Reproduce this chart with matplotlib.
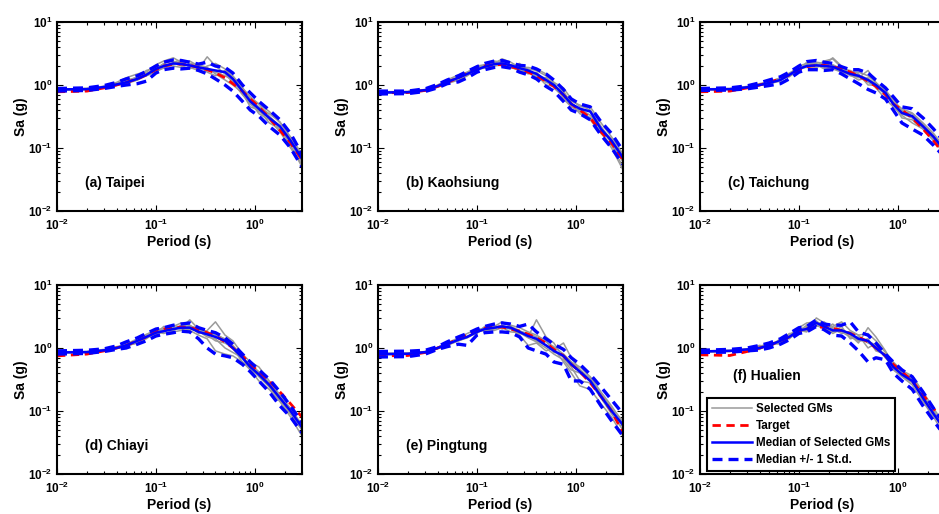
import math

import matplotlib
matplotlib.use("Agg")
import matplotlib.pyplot as plt
from matplotlib.ticker import LogLocator, FuncFormatter

plt.rcParams["font.family"] = ["Liberation Sans", "DejaVu Sans"]
plt.rcParams["font.weight"] = "bold"
plt.rcParams["mathtext.fontset"] = "custom"
plt.rcParams["mathtext.rm"] = "Liberation Sans:bold"
plt.rcParams["mathtext.bf"] = "Liberation Sans:bold"
plt.rcParams["mathtext.it"] = "Liberation Sans:bold:italic"
plt.rcParams["mathtext.default"] = "bf"

# period grid shared by every curve (s)
PERIODS = [0.01, 0.02, 0.03, 0.04, 0.05, 0.065, 0.08, 0.1, 0.12, 0.15, 0.18, 0.22,
           0.27, 0.33, 0.4, 0.5, 0.6, 0.75, 0.9, 1.1, 1.4, 1.8, 2.3, 3.0]

# (a) Taipei
TAIPEI_TARGET = [0.78, 0.80, 0.90, 1.0, 1.1, 1.25, 1.45, 1.75, 2.0, 2.15, 2.15, 2.05, 1.9, 1.75, 1.55, 1.3, 1.05, 0.8, 0.6, 0.45, 0.3, 0.19, 0.12, 0.065]
TAIPEI_MED = [0.85, 0.86, 0.93, 1.02, 1.1, 1.25, 1.45, 1.8, 2.0, 2.2, 2.15, 2.05, 1.9, 1.8, 1.7, 1.6, 1.25, 0.8, 0.55, 0.42, 0.3, 0.22, 0.13, 0.068]
TAIPEI_UP = [0.88, 0.9, 0.98, 1.1, 1.25, 1.4, 1.65, 2.0, 2.3, 2.5, 2.45, 2.3, 2.15, 2.3, 2.0, 1.9, 1.55, 1.0, 0.75, 0.55, 0.4, 0.28, 0.17, 0.08]
TAIPEI_LO = [0.8, 0.82, 0.88, 0.95, 1.0, 1.05, 1.15, 1.55, 1.75, 1.85, 1.8, 1.85, 1.7, 1.5, 1.25, 1.0, 0.8, 0.55, 0.4, 0.32, 0.22, 0.16, 0.1, 0.05]
TAIPEI_GMS = [
    [0.82, 0.84, 0.95, 1.1, 1.3, 1.5, 1.6, 2.1, 2.4, 2.7, 2.3, 2.0, 1.8, 2.8, 2.0, 1.5, 1.1, 0.7, 0.5, 0.38, 0.3, 0.2, 0.12, 0.06],
    [0.86, 0.88, 0.92, 1.0, 1.05, 1.2, 1.4, 1.6, 1.9, 2.3, 2.5, 2.2, 2.0, 1.6, 1.4, 1.7, 1.4, 0.9, 0.6, 0.5, 0.38, 0.25, 0.15, 0.08],
    [0.84, 0.85, 0.9, 0.98, 1.15, 1.35, 1.7, 1.9, 2.1, 2.0, 1.9, 2.2, 2.1, 1.9, 1.5, 1.2, 1.0, 0.75, 0.45, 0.4, 0.25, 0.2, 0.11, 0.05],
    [0.85, 0.87, 0.96, 1.05, 1.1, 1.2, 1.5, 1.7, 1.85, 2.1, 2.4, 1.9, 1.7, 2.0, 2.2, 1.8, 1.3, 0.85, 0.6, 0.45, 0.35, 0.26, 0.14, 0.075],
    [0.83, 0.85, 0.92, 1.0, 1.12, 1.3, 1.4, 1.8, 2.2, 2.4, 2.0, 1.8, 2.1, 1.7, 1.6, 1.4, 1.2, 0.8, 0.55, 0.35, 0.28, 0.18, 0.1, 0.055],
    [0.86, 0.88, 0.94, 1.05, 1.2, 1.3, 1.5, 1.9, 1.9, 2.2, 2.3, 2.4, 2.0, 1.8, 1.7, 1.6, 1.3, 0.9, 0.65, 0.5, 0.32, 0.22, 0.14, 0.07],
]

# (b) Kaohsiung
KAOHSIUNG_TARGET = [0.75, 0.76, 0.82, 0.95, 1.1, 1.3, 1.55, 1.8, 2.0, 2.1, 2.1, 1.95, 1.8, 1.6, 1.4, 1.15, 0.95, 0.7, 0.5, 0.4, 0.3, 0.18, 0.12, 0.065]
KAOHSIUNG_MED = [0.76, 0.77, 0.83, 0.96, 1.12, 1.3, 1.5, 1.75, 1.95, 2.15, 2.2, 2.05, 1.85, 1.7, 1.5, 1.2, 1.0, 0.7, 0.5, 0.42, 0.38, 0.2, 0.13, 0.07]
KAOHSIUNG_UP = [0.8, 0.8, 0.87, 1.02, 1.2, 1.4, 1.65, 1.95, 2.2, 2.4, 2.45, 2.25, 2.05, 2.0, 1.8, 1.5, 1.2, 0.85, 0.6, 0.5, 0.45, 0.26, 0.17, 0.09]
KAOHSIUNG_LO = [0.72, 0.73, 0.79, 0.9, 1.05, 1.12, 1.3, 1.6, 1.75, 1.9, 1.95, 1.85, 1.6, 1.45, 1.25, 0.95, 0.8, 0.55, 0.4, 0.35, 0.28, 0.16, 0.1, 0.055]
KAOHSIUNG_GMS = [
    [0.74, 0.75, 0.8, 0.95, 1.1, 1.25, 1.6, 2.0, 2.1, 2.4, 2.3, 2.0, 2.2, 1.6, 1.3, 1.2, 1.1, 0.6, 0.45, 0.4, 0.3, 0.18, 0.1, 0.045],
    [0.78, 0.79, 0.85, 1.0, 1.2, 1.45, 1.6, 1.7, 2.0, 2.2, 2.6, 2.3, 1.9, 1.9, 1.8, 1.5, 1.1, 0.9, 0.6, 0.45, 0.45, 0.25, 0.15, 0.08],
    [0.76, 0.77, 0.82, 0.92, 1.05, 1.2, 1.4, 1.8, 1.85, 2.0, 2.1, 1.9, 1.7, 1.6, 1.45, 1.0, 0.95, 0.8, 0.5, 0.35, 0.3, 0.2, 0.14, 0.07],
    [0.77, 0.78, 0.84, 0.98, 1.15, 1.35, 1.5, 1.7, 2.1, 2.3, 2.0, 2.1, 1.95, 1.8, 1.7, 1.4, 0.9, 0.65, 0.45, 0.38, 0.28, 0.17, 0.11, 0.05],
    [0.75, 0.76, 0.83, 0.95, 1.1, 1.3, 1.45, 1.75, 1.9, 2.1, 2.2, 1.9, 1.75, 1.5, 1.6, 1.1, 1.0, 0.75, 0.55, 0.48, 0.4, 0.22, 0.13, 0.075],
    [0.76, 0.78, 0.82, 0.96, 1.13, 1.28, 1.55, 1.9, 2.0, 2.2, 2.25, 2.1, 1.8, 1.7, 1.35, 1.3, 1.05, 0.7, 0.5, 0.42, 0.33, 0.2, 0.12, 0.06],
]

# (c) Taichung
TAICHUNG_TARGET = [0.78, 0.8, 0.9, 1.0, 1.1, 1.25, 1.45, 1.75, 1.95, 2.05, 2.05, 1.95, 1.8, 1.6, 1.4, 1.15, 0.95, 0.7, 0.5, 0.4, 0.3, 0.2, 0.13, 0.075]
TAICHUNG_MED = [0.85, 0.86, 0.92, 1.0, 1.08, 1.2, 1.45, 1.8, 2.0, 2.05, 2.0, 1.95, 1.7, 1.5, 1.4, 1.2, 1.0, 0.75, 0.5, 0.36, 0.32, 0.22, 0.15, 0.09]
TAICHUNG_UP = [0.88, 0.9, 0.97, 1.08, 1.2, 1.35, 1.6, 2.0, 2.35, 2.45, 2.3, 2.2, 1.95, 1.75, 1.75, 1.55, 1.2, 0.9, 0.65, 0.45, 0.42, 0.3, 0.2, 0.12]
TAICHUNG_LO = [0.82, 0.83, 0.87, 0.93, 0.98, 1.05, 1.25, 1.6, 1.75, 1.75, 1.7, 1.75, 1.5, 1.25, 1.05, 0.85, 0.75, 0.6, 0.4, 0.25, 0.2, 0.16, 0.11, 0.07]
TAICHUNG_GMS = [
    [0.84, 0.85, 0.9, 1.0, 1.1, 1.3, 1.5, 2.0, 2.2, 2.0, 2.4, 2.6, 1.9, 1.5, 1.3, 1.7, 1.1, 0.7, 0.5, 0.3, 0.28, 0.2, 0.13, 0.08],
    [0.86, 0.87, 0.93, 1.02, 1.1, 1.2, 1.4, 1.7, 2.3, 2.2, 1.9, 2.1, 1.8, 1.7, 1.5, 1.0, 1.0, 0.85, 0.55, 0.42, 0.36, 0.25, 0.17, 0.1],
    [0.85, 0.86, 0.9, 0.98, 1.05, 1.15, 1.5, 1.9, 1.9, 2.1, 2.2, 1.8, 1.6, 1.45, 1.2, 1.3, 0.9, 0.6, 0.45, 0.33, 0.25, 0.2, 0.14, 0.085],
    [0.87, 0.88, 0.95, 1.05, 1.12, 1.3, 1.55, 1.85, 2.0, 1.9, 2.1, 2.7, 2.0, 1.6, 1.6, 1.4, 1.1, 0.8, 0.6, 0.38, 0.35, 0.24, 0.15, 0.095],
    [0.84, 0.85, 0.9, 0.99, 1.06, 1.25, 1.35, 1.75, 1.95, 2.1, 1.8, 1.9, 1.75, 1.4, 1.35, 1.1, 0.95, 0.7, 0.5, 0.35, 0.3, 0.21, 0.14, 0.08],
    [0.86, 0.87, 0.92, 1.01, 1.09, 1.2, 1.45, 1.8, 2.1, 2.3, 2.2, 2.0, 1.7, 1.55, 1.45, 1.25, 1.05, 0.75, 0.5, 0.4, 0.32, 0.23, 0.16, 0.09],
]

# (d) Chiayi
CHIAYI_TARGET = [0.75, 0.8, 0.9, 1.0, 1.1, 1.3, 1.5, 1.8, 2.0, 2.1, 2.15, 2.1, 1.95, 1.75, 1.55, 1.25, 1.0, 0.75, 0.55, 0.42, 0.3, 0.2, 0.13, 0.08]
CHIAYI_MED = [0.85, 0.86, 0.92, 1.0, 1.1, 1.3, 1.5, 1.75, 1.85, 2.0, 2.1, 2.1, 1.8, 1.65, 1.5, 1.3, 1.0, 0.7, 0.5, 0.38, 0.26, 0.16, 0.1, 0.055]
CHIAYI_UP = [0.9, 0.92, 0.97, 1.08, 1.25, 1.45, 1.7, 2.0, 2.1, 2.3, 2.4, 2.5, 2.1, 1.9, 1.75, 1.45, 1.15, 0.8, 0.6, 0.45, 0.32, 0.2, 0.12, 0.065]
CHIAYI_LO = [0.8, 0.82, 0.88, 0.95, 1.0, 1.15, 1.3, 1.55, 1.65, 1.75, 1.85, 1.8, 1.4, 1.0, 0.8, 0.75, 0.7, 0.55, 0.42, 0.3, 0.2, 0.12, 0.08, 0.045]
CHIAYI_GMS = [
    [0.84, 0.86, 0.9, 1.0, 1.15, 1.4, 1.6, 2.0, 2.0, 2.3, 2.1, 2.8, 2.0, 1.6, 1.3, 1.2, 1.0, 0.6, 0.45, 0.3, 0.22, 0.14, 0.08, 0.04],
    [0.86, 0.87, 0.93, 1.05, 1.1, 1.2, 1.45, 1.7, 2.2, 1.8, 1.9, 2.3, 1.7, 1.9, 2.6, 1.6, 1.3, 0.8, 0.6, 0.5, 0.3, 0.18, 0.11, 0.06],
    [0.85, 0.86, 0.9, 0.98, 1.05, 1.25, 1.4, 1.8, 1.7, 1.9, 2.2, 1.9, 1.6, 1.4, 0.9, 0.8, 0.75, 0.6, 0.5, 0.35, 0.24, 0.15, 0.09, 0.05],
    [0.87, 0.88, 0.95, 1.04, 1.12, 1.35, 1.65, 1.9, 1.9, 2.2, 2.5, 2.3, 1.9, 1.8, 1.6, 1.4, 1.1, 0.75, 0.5, 0.4, 0.28, 0.17, 0.1, 0.06],
    [0.84, 0.85, 0.9, 1.0, 1.08, 1.2, 1.5, 1.65, 1.8, 2.1, 2.0, 2.0, 1.85, 1.5, 1.4, 1.0, 0.85, 0.7, 0.45, 0.36, 0.25, 0.15, 0.09, 0.05],
    [0.86, 0.87, 0.92, 1.02, 1.1, 1.3, 1.55, 1.85, 2.0, 1.95, 2.3, 2.2, 2.1, 1.7, 1.7, 1.35, 1.05, 0.7, 0.55, 0.42, 0.27, 0.16, 0.1, 0.055],
]

# (e) Pingtung
PINGTUNG_TARGET = [0.75, 0.76, 0.85, 1.0, 1.15, 1.4, 1.6, 1.9, 2.05, 2.15, 2.15, 2.0, 1.85, 1.65, 1.45, 1.2, 0.95, 0.75, 0.55, 0.42, 0.28, 0.17, 0.1, 0.045]
PINGTUNG_MED = [0.8, 0.81, 0.86, 1.0, 1.15, 1.35, 1.5, 1.8, 2.0, 2.1, 2.2, 2.1, 1.8, 1.55, 1.4, 1.1, 0.9, 0.75, 0.55, 0.42, 0.3, 0.17, 0.1, 0.06]
PINGTUNG_UP = [0.88, 0.89, 0.92, 1.05, 1.25, 1.5, 1.7, 2.0, 2.2, 2.4, 2.5, 2.4, 2.2, 2.4, 1.8, 1.4, 1.15, 0.95, 0.7, 0.55, 0.38, 0.24, 0.15, 0.09]
PINGTUNG_LO = [0.72, 0.73, 0.8, 0.95, 1.05, 1.15, 1.1, 1.6, 1.75, 1.8, 1.8, 1.75, 1.5, 1.0, 0.9, 0.8, 0.6, 0.55, 0.3, 0.3, 0.22, 0.12, 0.07, 0.04]
PINGTUNG_GMS = [
    [0.78, 0.79, 0.84, 0.98, 1.1, 1.3, 1.5, 1.9, 2.1, 2.2, 2.6, 2.2, 1.9, 1.5, 2.8, 1.5, 1.2, 0.7, 0.5, 0.3, 0.28, 0.16, 0.09, 0.05],
    [0.82, 0.83, 0.88, 1.02, 1.2, 1.45, 1.7, 2.0, 1.95, 1.9, 2.1, 2.0, 1.6, 1.1, 1.2, 0.9, 1.0, 0.6, 0.4, 0.25, 0.22, 0.13, 0.08, 0.04],
    [0.8, 0.82, 0.86, 1.0, 1.15, 1.35, 1.5, 1.7, 2.2, 2.3, 2.0, 2.3, 2.1, 1.8, 1.6, 1.3, 0.85, 0.8, 0.6, 0.5, 0.35, 0.2, 0.12, 0.065],
    [0.79, 0.8, 0.85, 0.97, 1.12, 1.3, 1.45, 1.8, 1.9, 2.0, 2.3, 2.0, 1.7, 1.6, 1.3, 1.1, 0.95, 1.2, 0.7, 0.45, 0.3, 0.17, 0.1, 0.06],
    [0.81, 0.82, 0.87, 1.01, 1.17, 1.35, 1.55, 1.75, 2.0, 2.2, 2.1, 1.8, 1.75, 1.45, 1.25, 1.0, 0.8, 0.65, 0.45, 0.4, 0.3, 0.18, 0.11, 0.055],
    [0.8, 0.81, 0.86, 1.0, 1.15, 1.4, 1.5, 1.85, 2.05, 2.15, 2.25, 2.1, 1.85, 1.7, 1.5, 1.25, 1.05, 0.8, 0.6, 0.45, 0.33, 0.19, 0.11, 0.07],
]

# (f) Hualien
HUALIEN_TARGET = [0.78, 0.76, 0.88, 1.0, 1.1, 1.3, 1.5, 1.8, 2.0, 2.15, 2.15, 2.05, 1.9, 1.7, 1.5, 1.25, 1.0, 0.75, 0.55, 0.42, 0.3, 0.18, 0.11, 0.06]
HUALIEN_MED = [0.88, 0.9, 0.95, 1.0, 1.1, 1.3, 1.5, 1.9, 2.0, 2.5, 2.2, 1.9, 1.9, 1.7, 1.4, 1.3, 1.0, 0.75, 0.5, 0.38, 0.3, 0.16, 0.09, 0.05]
HUALIEN_UP = [0.92, 0.95, 1.0, 1.1, 1.2, 1.4, 1.7, 2.1, 2.2, 2.8, 2.4, 2.3, 2.3, 2.6, 1.8, 1.6, 1.2, 0.8, 0.6, 0.45, 0.35, 0.2, 0.11, 0.06]
HUALIEN_LO = [0.85, 0.86, 0.9, 0.93, 1.0, 1.15, 1.35, 1.7, 1.8, 2.2, 1.95, 1.6, 1.55, 1.2, 0.9, 0.6, 0.7, 0.65, 0.4, 0.3, 0.22, 0.12, 0.07, 0.04]
HUALIEN_GMS = [
    [0.86, 0.88, 0.93, 1.05, 1.2, 1.15, 1.6, 2.1, 2.5, 2.6, 2.2, 1.7, 2.0, 1.6, 1.2, 2.1, 1.5, 0.9, 0.55, 0.4, 0.35, 0.18, 0.1, 0.055],
    [0.9, 0.92, 0.97, 1.1, 1.05, 1.4, 1.4, 1.9, 1.8, 3.0, 2.5, 2.2, 2.6, 1.9, 1.6, 1.0, 1.2, 0.7, 0.5, 0.42, 0.3, 0.15, 0.09, 0.045],
    [0.87, 0.89, 0.94, 0.95, 1.15, 1.25, 1.7, 1.7, 2.2, 2.3, 2.0, 2.4, 1.8, 1.5, 1.3, 1.4, 0.9, 0.8, 0.45, 0.35, 0.26, 0.14, 0.08, 0.04],
    [0.88, 0.9, 0.96, 1.08, 1.0, 1.35, 1.5, 2.0, 2.1, 2.4, 2.6, 2.0, 1.7, 1.8, 1.6, 1.7, 1.3, 0.85, 0.6, 0.44, 0.36, 0.2, 0.11, 0.06],
    [0.89, 0.91, 0.95, 1.02, 1.12, 1.2, 1.55, 1.8, 1.95, 2.7, 2.1, 1.8, 2.2, 1.4, 1.5, 1.2, 1.05, 0.75, 0.5, 0.36, 0.28, 0.17, 0.1, 0.05],
    [0.87, 0.9, 0.94, 1.04, 1.1, 1.3, 1.45, 1.85, 2.3, 2.2, 2.4, 2.1, 1.9, 1.7, 1.3, 1.3, 1.1, 0.7, 0.55, 0.4, 0.32, 0.16, 0.09, 0.05],
]

PANELS = [
    ("(a) Taipei", TAIPEI_GMS, TAIPEI_TARGET, TAIPEI_MED, TAIPEI_UP, TAIPEI_LO),
    ("(b) Kaohsiung", KAOHSIUNG_GMS, KAOHSIUNG_TARGET, KAOHSIUNG_MED, KAOHSIUNG_UP, KAOHSIUNG_LO),
    ("(c) Taichung", TAICHUNG_GMS, TAICHUNG_TARGET, TAICHUNG_MED, TAICHUNG_UP, TAICHUNG_LO),
    ("(d) Chiayi", CHIAYI_GMS, CHIAYI_TARGET, CHIAYI_MED, CHIAYI_UP, CHIAYI_LO),
    ("(e) Pingtung", PINGTUNG_GMS, PINGTUNG_TARGET, PINGTUNG_MED, PINGTUNG_UP, PINGTUNG_LO),
    ("(f) Hualien", HUALIEN_GMS, HUALIEN_TARGET, HUALIEN_MED, HUALIEN_UP, HUALIEN_LO),
]

W, H = 939, 514
COL_X = [57, 378, 700]
ROW_TOP = [22, 285]
AX_W, AX_H = 245, 189


def pow_label(v, pos):
    return r"$10^{%d}$" % int(round(math.log10(v)))


def style_axes(ax):
    ax.set_xscale("log")
    ax.set_yscale("log")
    ax.set_xlim(0.01, 3.0)
    ax.set_ylim(0.01, 10)
    ax.xaxis.set_major_locator(LogLocator(base=10, numticks=10))
    ax.yaxis.set_major_locator(LogLocator(base=10, numticks=10))
    ax.xaxis.set_minor_locator(LogLocator(base=10, subs=range(2, 10), numticks=20))
    ax.yaxis.set_minor_locator(LogLocator(base=10, subs=range(2, 10), numticks=20))
    ax.xaxis.set_major_formatter(FuncFormatter(pow_label))
    ax.yaxis.set_major_formatter(FuncFormatter(pow_label))
    ax.tick_params(which="both", direction="in", top=True, right=True, labelsize=8.5, width=0.8)
    ax.tick_params(which="major", length=4)
    ax.tick_params(which="minor", length=2)
    ax.tick_params(axis="x", pad=5)
    for s in ax.spines.values():
        s.set_linewidth(1.5)
    ax.set_xlabel("Period (s)", fontsize=10, fontweight="bold", labelpad=1)
    ax.set_ylabel("Sa (g)", fontsize=10, fontweight="bold", labelpad=0)


def main():
    fig = plt.figure(figsize=(W / 100, H / 100), dpi=100)
    for i, (name, gms, target, med, up, lo) in enumerate(PANELS):
        r, c = divmod(i, 3)
        left = COL_X[c] / W
        bottom = 1 - (ROW_TOP[r] + AX_H) / H
        ax = fig.add_axes([left, bottom, AX_W / W, AX_H / H])
        for j, g in enumerate(gms):
            ax.plot(PERIODS, g, color="#9a9a9a", lw=1.1,
                    label="Selected GMs" if j == 0 else None)
        ax.plot(PERIODS, target, color="red", lw=2.0, ls=(0, (3, 2)), label="Target")
        ax.plot(PERIODS, med, color="blue", lw=1.8, label="Median of Selected GMs")
        ax.plot(PERIODS, up, color="blue", lw=2.4, ls=(0, (3, 1.8)), label="Median +/- 1 St.d.")
        ax.plot(PERIODS, lo, color="blue", lw=2.4, ls=(0, (3, 1.8)))
        style_axes(ax)
        if i == 5:
            ax.text(0.135, 0.52, name, transform=ax.transAxes, fontsize=10, fontweight="bold", va="center")
            leg = ax.legend(loc="lower left", bbox_to_anchor=(0.029, 0.016), borderaxespad=0,
                            prop={"weight": "bold", "size": 8.4}, fancybox=False,
                            edgecolor="black", framealpha=1, handlelength=3.4,
                            borderpad=0.45, labelspacing=0.42, handletextpad=0.3)
            leg.get_frame().set_linewidth(1.5)
        else:
            ax.text(0.115, 0.15, name, transform=ax.transAxes, fontsize=10, fontweight="bold", va="center")
    fig.savefig("out.png", dpi=100)
    plt.close(fig)


if __name__ == "__main__":
    main()
